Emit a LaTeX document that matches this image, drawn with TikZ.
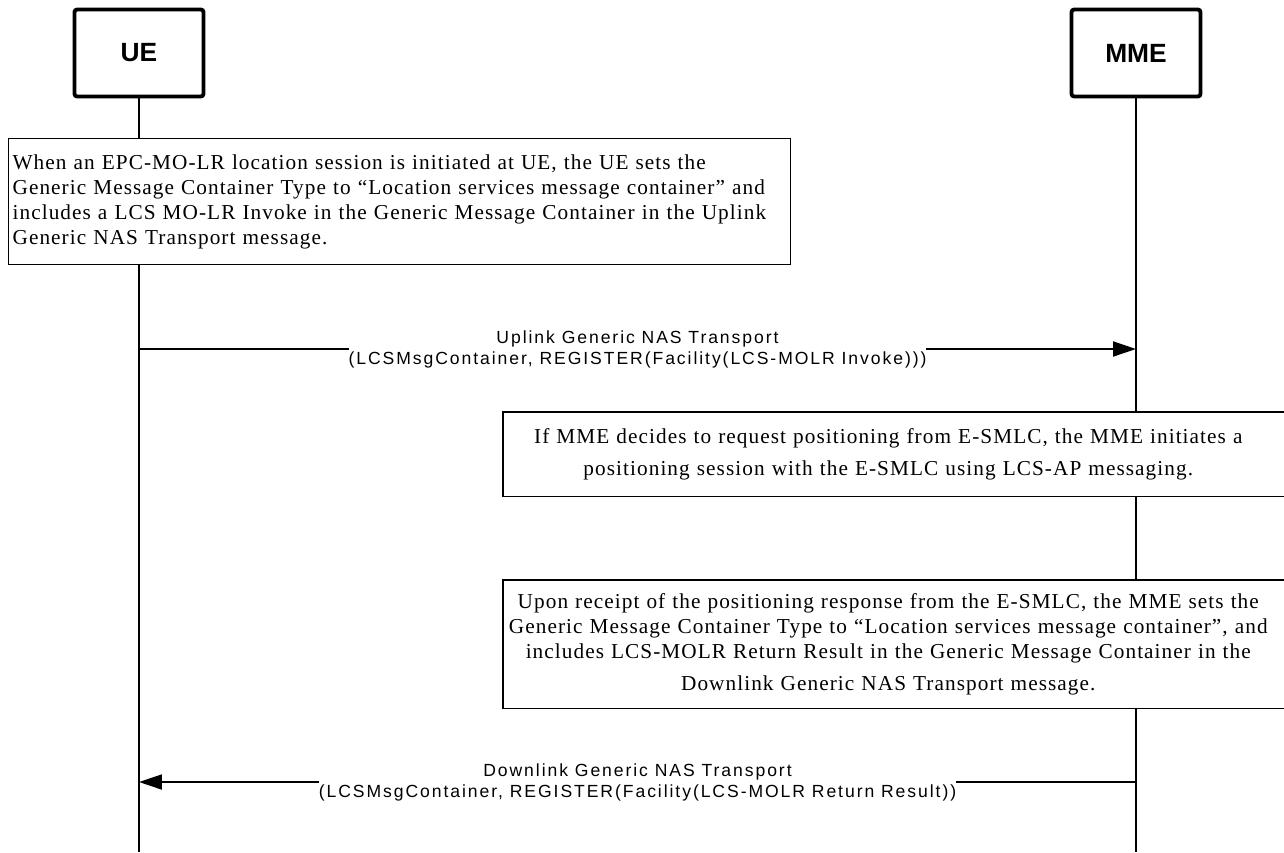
\documentclass[tikz,border=0pt]{standalone}
\usepackage{fontspec}
\setmainfont[LetterSpace=5]{Liberation Serif}
\setsansfont{Liberation Sans}
\newfontfamily\msgfont[LetterSpace=11]{Liberation Sans}
\usetikzlibrary{arrows.meta}
\tikzstyle{entity}=[rectangle,draw,line width=2.2pt,rounded corners=1.5pt,minimum width=2.58cm,minimum height=1.74cm,font=\sffamily\bfseries\fontsize{15}{18}\selectfont]
\tikzstyle{note}=[rectangle,inner sep=0pt,font=\fontsize{12.1}{14.2}\selectfont]
\tikzstyle{lifeline}=[line width=0.85pt]
\tikzstyle{msg}=[line width=1.1pt,-{Triangle[length=0.46cm,width=0.3cm]}]
\tikzstyle{msglabel}=[fill=white,inner sep=0pt,align=center,font=\msgfont\fontsize{10}{12}\selectfont]

\begin{document}
\begin{tikzpicture}[x=0.02cm,y=-0.02cm]
    \useasboundingbox (0,0) rectangle (1284,852);
    \clip (0,0) rectangle (1284,852);

    \foreach \pos/\name/\label in {{(139,53)/ue/UE}, {(1136,53)/mme/MME}}
        \node[entity] (\name) at \pos {\label};

    \coordinate (ueend) at (139,852);
    \coordinate (mmeend) at (1136,852);
    \coordinate (upy) at (0,349);
    \coordinate (downy) at (0,782);

    \node[note, draw, line width=0.7pt, anchor=north west, text width=15.48cm, inner xsep=0.08cm, minimum height=2.52cm, align=left] (note1) at (8,138)
        {When an EPC-MO-LR location session is initiated at UE, the UE sets the\\
         Generic Message Container Type to “Location services message container” and\\
         includes a LCS MO-LR Invoke in the Generic Message Container in the Uplink\\
         Generic NAS Transport message.};

    \node[note, anchor=north west, text width=15.4cm, minimum height=1.68cm, align=center] (note2) at (503,412)
        {If MME decides to request positioning from E-SMLC, the MME initiates a\\[4.5pt]
         positioning session with the E-SMLC using LCS-AP messaging.};
    \draw[line width=0.7pt] (note2.north west) rectangle ([xshift=0.6cm]note2.south east);

    \node[note, anchor=north west, text width=15.4cm, minimum height=2.56cm, align=center] (note3) at (503,580)
        {Upon receipt of the positioning response from the E-SMLC, the MME sets the\\
         Generic Message Container Type to “Location services message container”, and\\
         includes LCS-MOLR Return Result in the Generic Message Container in the\\[4pt]
         Downlink Generic NAS Transport message.};
    \draw[line width=0.7pt] (note3.north west) rectangle ([xshift=0.6cm]note3.south east);

    % lifelines
    \draw[lifeline] (ue.south) -- (ue.south |- note1.north);
    \draw[lifeline] (ue.south |- note1.south) -- (ueend);
    \draw[lifeline] (mme.south) -- (mme.south |- note2.north);
    \draw[lifeline] (mme.south |- note2.south) -- (mme.south |- note3.north);
    \draw[lifeline] (mme.south |- note3.south) -- (mmeend);

    % messages
    \draw[msg] (ue |- upy) -- (mme |- upy)
        node[msglabel, midway] {Uplink Generic NAS Transport\\(LCSMsgContainer, REGISTER(Facility(LCS-MOLR Invoke)))};
    \draw[msg] (mme |- downy) -- (ue |- downy)
        node[msglabel, midway] {Downlink Generic NAS Transport\\(LCSMsgContainer, REGISTER(Facility(LCS-MOLR Return Result))};

\end{tikzpicture}
\end{document}
